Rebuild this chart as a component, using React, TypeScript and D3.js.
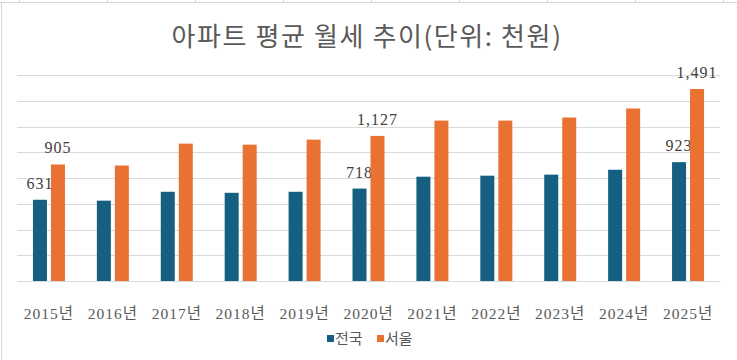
// App.tsx
import React, { useEffect, useRef } from 'react';
import * as d3 from 'd3';

const years = ['2015년', '2016년', '2017년', '2018년', '2019년', '2020년', '2021년', '2022년', '2023년', '2024년', '2025년'];
const seriesNames = ['전국', '서울'];
const nationwide = [631, 624, 693, 685, 693, 718, 810, 818, 826, 864, 923];
const seoul = [905, 897, 1067, 1059, 1098, 1127, 1246, 1246, 1270, 1340, 1491];
const labeledYears = ['2015년', '2020년', '2025년'];
const gridTicks = [0, 200, 400, 600, 800, 1000, 1200, 1400, 1600];
const colors = ['#156082', '#E97132'];

const App = () => {
  const svgRef = useRef<SVGSVGElement | null>(null);

  useEffect(() => {
    renderChart();
  }, []);

  const renderChart = () => {
    const width = 737;
    const height = 360;
    const svg = d3.select(svgRef.current);
    svg.selectAll('*').remove();

    // Spreadsheet cell lines peeking above the chart
    svg
      .append('line')
      .attr('x1', 0)
      .attr('x2', width)
      .attr('y1', 2.5)
      .attr('y2', 2.5)
      .attr('stroke', '#D4D4D4');
    d3.range(19, width, 88).forEach((x) => {
      svg
        .append('line')
        .attr('x1', x + 0.5)
        .attr('x2', x + 0.5)
        .attr('y1', 0)
        .attr('y2', 2.5)
        .attr('stroke', '#D4D4D4');
    });
    svg
      .append('line')
      .attr('x1', 1.5)
      .attr('x2', 1.5)
      .attr('y1', 2.5)
      .attr('y2', height)
      .attr('stroke', '#D9D9D9');

    // Title
    svg
      .append('text')
      .attr('x', 367)
      .attr('y', 46)
      .attr('text-anchor', 'middle')
      .style('font-family', '"Noto Sans CJK KR", "Noto Sans", sans-serif')
      .style('font-size', '26px')
      .style('letter-spacing', '1.6px')
      .style('fill', '#595959')
      .text('아파트 평균 월세 추이(단위: 천원)');

    // Scales
    const xScale = d3.scaleBand().domain(years).range([17, 720]).paddingInner(0);
    const yScale = d3.scaleLinear().domain([0, 1600]).range([281, 75]);
    const band = xScale.bandwidth();
    const inner = d3
      .scaleBand()
      .domain(seriesNames)
      .range([band / 2 - 16, band / 2 + 16])
      .paddingInner(0.222);

    // Gridlines
    svg
      .append('g')
      .attr('transform', 'translate(17,0)')
      .call(
        d3
          .axisLeft(yScale)
          .tickValues(gridTicks)
          .tickSize(-(720 - 17))
          .tickFormat(() => '')
      )
      .call((g) => g.select('.domain').remove())
      .call((g) => g.selectAll('line').attr('stroke', '#D9D9D9').attr('shape-rendering', 'crispEdges'));

    // Bars
    const series = [nationwide, seoul];
    series.forEach((values, si) => {
      svg
        .append('g')
        .selectAll('rect')
        .data(values)
        .enter()
        .append('rect')
        .attr('x', (d, i) => (xScale(years[i]) as number) + (inner(seriesNames[si]) as number))
        .attr('y', (d) => yScale(d))
        .attr('width', inner.bandwidth())
        .attr('height', (d) => yScale(0) - yScale(d))
        .attr('fill', colors[si]);

      // Data labels on selected years
      svg
        .append('g')
        .selectAll('text')
        .data(values.map((v, i) => ({ v, year: years[i] })).filter((d) => labeledYears.includes(d.year)))
        .enter()
        .append('text')
        .attr('x', (d) => (xScale(d.year) as number) + (inner(seriesNames[si]) as number) + inner.bandwidth() / 2)
        .attr('y', (d) => yScale(d.v) - 11)
        .attr('text-anchor', 'middle')
        .style('font-family', '"Liberation Serif", "DejaVu Serif", serif')
        .style('font-size', '16px')
        .style('letter-spacing', '1px')
        .style('fill', '#404040')
        .text((d) => d3.format(',')(d.v));
    });

    // X axis labels
    svg
      .append('g')
      .attr('transform', 'translate(0,281)')
      .call(d3.axisBottom(xScale).tickSize(0).tickPadding(27))
      .call((g) => g.select('.domain').attr('stroke', '#D9D9D9'))
      .call((g) =>
        g
          .selectAll('text')
          .style('font-family', '"Liberation Serif", "Noto Sans CJK KR", serif')
          .style('font-size', '15.5px')
          .style('letter-spacing', '1px')
          .style('fill', '#595959')
      );

    // Legend
    const legendX = [327, 377];
    seriesNames.forEach((name, i) => {
      svg
        .append('rect')
        .attr('x', legendX[i])
        .attr('y', 335)
        .attr('width', 7)
        .attr('height', 7)
        .attr('fill', colors[i]);
      svg
        .append('text')
        .attr('x', legendX[i] + 8)
        .attr('y', 344)
        .style('font-family', '"Noto Sans CJK KR", sans-serif')
        .style('font-size', '15px')
        .style('fill', '#595959')
        .text(name);
    });
  };

  return (
    <svg
      ref={svgRef}
      width={737}
      height={360}
      style={{ position: 'absolute', left: 0, top: 0, background: '#ffffff' }}
    />
  );
};

export default App;
